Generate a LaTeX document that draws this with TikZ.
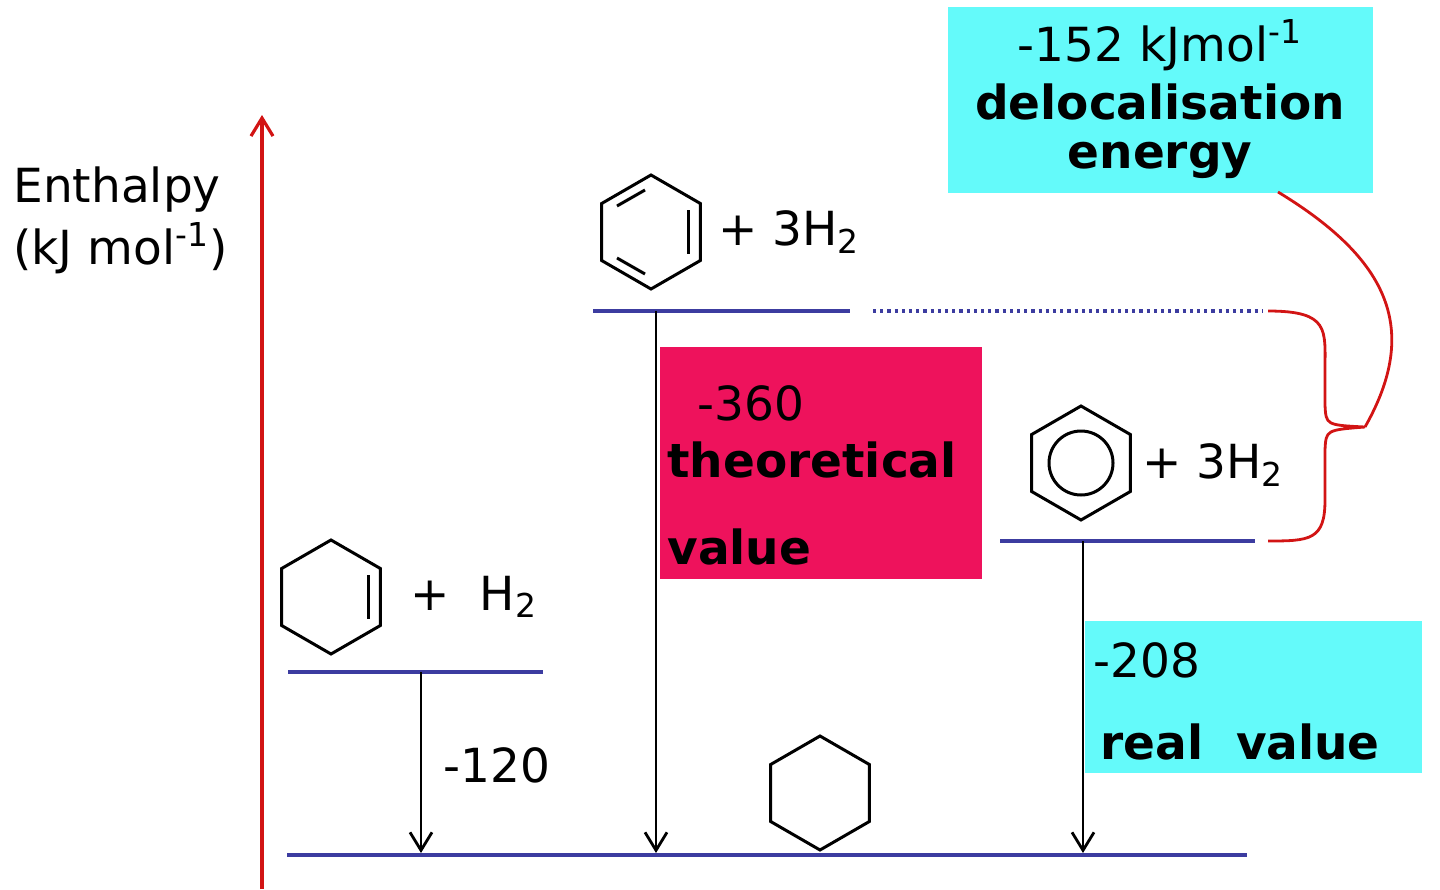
\documentclass[tikz,border=0pt]{standalone}
\usepackage{fontspec}
\setmainfont{DejaVu Sans}
\usetikzlibrary{arrows.meta}
\definecolor{lvl}{RGB}{60,60,160}
\definecolor{axred}{RGB}{210,20,20}
\definecolor{boxcyan}{RGB}{100,250,250}
\definecolor{boxpink}{RGB}{238,18,92}
\tikzset{
  level/.style={draw=lvl,line width=1.6pt},
  step arrow/.style={draw,line width=1.4pt,-{Straight Barb[length=9pt,width=11pt]}},
  ring/.style={line width=1.5pt},
  txt/.style={inner sep=0pt,font=\fontsize{23.5}{28}\selectfont},
  btxt/.style={txt,font=\fontsize{23.5}{28}\selectfont\bfseries}
}
\newcommand{\hexring}[2]{%
  \draw[ring] (#1) ++(90:#2) -- ++(-30:#2) -- ++(-90:#2) -- ++(-150:#2) -- ++(150:#2) -- ++(90:#2) -- cycle;}
\begin{document}
\begin{tikzpicture}[x=0.5pt,y=-0.5pt]
\useasboundingbox (0,0) rectangle (1440,889);
% boxes
\fill[boxcyan] (948,7) rectangle (1373,193);
\fill[boxpink] (660,347) rectangle (982,579);
\fill[boxcyan] (1085,621) rectangle (1422,773);
% axis
\coordinate (axbot) at (262,889);
\coordinate (axtop) at (262,115);
\draw[axred,line width=1.6pt,-{Straight Barb[length=9pt,width=11pt]}] (axbot) -- (axtop);
\node[txt,anchor=west] (enth) at (13,190) {Enthalpy};
\node[txt,anchor=west] (unit) at (13,248) {(kJ mol\textsuperscript{-1})};
% levels
\coordinate (base0) at (287,855); \coordinate (base1) at (1247,855);
\coordinate (ene0) at (288,672); \coordinate (ene1) at (543,672);
\coordinate (kek0) at (593,311); \coordinate (kek1) at (850,311);
\coordinate (dot0) at (873,311); \coordinate (dot1) at (1262,311);
\coordinate (ben0) at (1000,541); \coordinate (ben1) at (1255,541);
\draw[level] (base0) -- (base1);
\draw[level] (ene0) -- (ene1);
\draw[level] (kek0) -- (kek1);
\draw[level,dotted] (dot0) -- (dot1);
\draw[level] (ben0) -- (ben1);
% arrows
\coordinate (a1) at (421,672); \coordinate (a1e) at (421,853);
\coordinate (a2) at (656,311); \coordinate (a2e) at (656,853);
\coordinate (a3) at (1083,541); \coordinate (a3e) at (1083,853);
\draw[step arrow] (a1) -- (a1e);
\draw[step arrow] (a2) -- (a2e);
\draw[step arrow] (a3) -- (a3e);
% rings
\coordinate (ene) at (331,597);
\hexring{ene}{57}
\draw[ring] ([shift={(37,-22)}]ene) -- ([shift={(37,22)}]ene);
\coordinate (kek) at (651,232);
\hexring{kek}{57}
\draw[ring] ([shift={(37,-22)}]kek) -- ([shift={(37,22)}]kek);
\draw[ring] ([shift={(-6,-42)}]kek) -- ([shift={(-34,-26)}]kek);
\draw[ring] ([shift={(-6,42)}]kek) -- ([shift={(-34,26)}]kek);
\coordinate (ben) at (1081,463);
\hexring{ben}{57}
\draw[ring] (ben) circle (16pt);
\coordinate (hex) at (820,793);
\hexring{hex}{57}
% texts
\node[txt,anchor=west] (eneplus) at (410,597) {+\ \ H\textsubscript{2}};
\node[txt,anchor=west] (kekplus) at (718,232) {+ 3H\textsubscript{2}};
\node[txt,anchor=west] (benplus) at (1142,465) {+ 3H\textsubscript{2}};
\node[txt,anchor=west] (v120) at (443,765) {-120};
\node[txt,anchor=west] (v360) at (697,403) {-360};
\node[btxt,anchor=west] (theo) at (667,460) {theoretical};
\node[btxt,anchor=west] (theov) at (667,547) {value};
\node[txt,anchor=west] (v208) at (1093,660) {-208};
\node[btxt,anchor=west] (real) at (1100,742) {real\ \ value};
\node[txt] (v152) at (1160,45) {-152 kJmol\textsuperscript{-1}};
\node[btxt] (deloc) at (1160,102) {delocalisation};
\node[btxt] (energy) at (1160,160) {energy};
% brace
\coordinate (tip) at (1365,427);
\draw[axred,line width=1.4pt] (1268,311) .. controls (1330,311) and (1325,330) .. (1325,370) -- (1325,405) .. controls (1326,425) .. (tip) .. controls (1326,430) .. (1325,450) -- (1325,500) .. controls (1325,540) and (1310,541) .. (1268,541);
\draw[axred,line width=1.4pt] (1278,192) .. controls (1390,260) and (1420,330) .. (tip);
\end{tikzpicture}
\end{document}
